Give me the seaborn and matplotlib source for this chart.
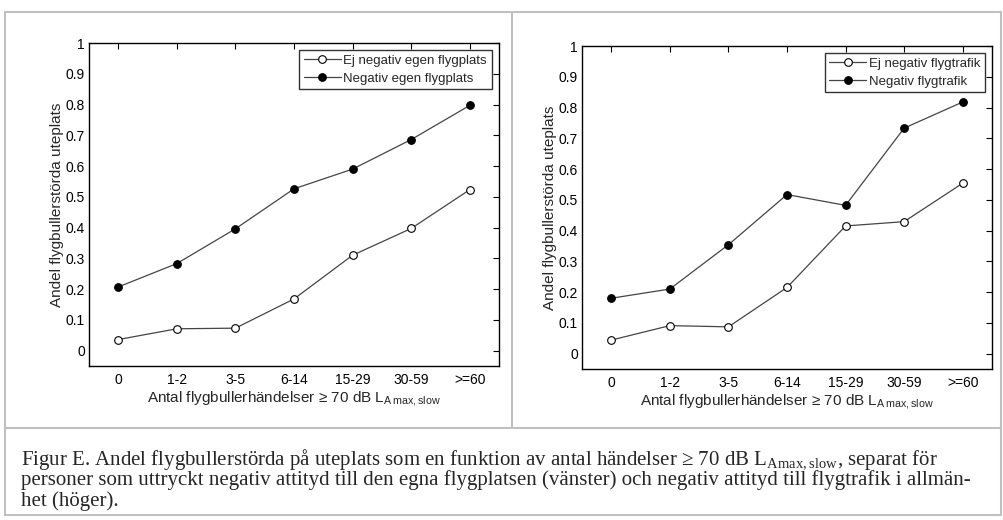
# plot.py
# Andel flygbullerstörda på uteplats vs antal händelser >= 70 dB LAmax,slow
# Two panels: egen flygplats (left) and flygtrafik i allmänhet (right)

import matplotlib
matplotlib.use('Agg')
import matplotlib.pyplot as plt
from matplotlib.patches import Rectangle
from matplotlib.lines import Line2D
import seaborn as sns
import pandas as pd

# ── Data ───────────────────────────────────────────────
categories = ['0', '1-2', '3-5', '6-14', '15-29', '30-59', '>=60']

left_not_negative = [0.036, 0.071, 0.073, 0.168, 0.310, 0.397, 0.523]
left_negative     = [0.207, 0.283, 0.396, 0.526, 0.590, 0.686, 0.797]

right_not_negative = [0.044, 0.091, 0.087, 0.215, 0.415, 0.429, 0.554]
right_negative     = [0.180, 0.210, 0.354, 0.517, 0.482, 0.733, 0.818]

left_labels  = ['Ej negativ egen flygplats', 'Negativ egen flygplats']
right_labels = ['Ej negativ flygtrafik', 'Negativ flygtrafik']

yticks = [0, 0.1, 0.2, 0.3, 0.4, 0.5, 0.6, 0.7, 0.8, 0.9, 1]
ytick_labels = ['0', '0.1', '0.2', '0.3', '0.4', '0.5', '0.6',
                '0.7', '0.8', '0.9', '1']

ylabel = 'Andel flygbullerstörda uteplats'
xlabel = 'Antal flygbullerhändelser \u2265 70 dB L$_{\\mathsf{A\\,max,slow}}$'
caption_lines = [
    'Figur E. Andel flygbullerstörda på uteplats som en funktion av antal '
    'händelser \u2265 70 dB L$_{\\mathrm{Amax,slow}}$, separat för',
    'personer som uttryckt negativ attityd till den egna flygplatsen '
    '(vänster) och negativ attityd till flygtrafik i allmän-',
    'het (höger).',
]

sns.set_style('white')
plt.rcParams['font.family'] = ['Liberation Sans', 'DejaVu Sans']
plt.rcParams['mathtext.fontset'] = 'custom'
plt.rcParams['mathtext.rm'] = 'Liberation Serif'
plt.rcParams['mathtext.sf'] = 'Liberation Sans'

LINE_COLOR = '#454545'


def draw_panel(ax, low, high, labels):
    df = pd.DataFrame({
        'kategori': categories * 2,
        'andel': low + high,
        'grupp': [labels[0]] * len(categories) + [labels[1]] * len(categories),
    })
    sns.lineplot(data=df[df['grupp'] == labels[0]], x='kategori', y='andel',
                 ax=ax, color=LINE_COLOR, linewidth=0.9, marker='o',
                 markersize=5.5, markerfacecolor='white',
                 markeredgecolor='black', markeredgewidth=0.8,
                 label=labels[0], sort=False)
    sns.lineplot(data=df[df['grupp'] == labels[1]], x='kategori', y='andel',
                 ax=ax, color=LINE_COLOR, linewidth=0.9, marker='o',
                 markersize=5.5, markerfacecolor='black',
                 markeredgecolor='black', markeredgewidth=0.8,
                 label=labels[1], sort=False)

    ax.set_xlim(-0.5, 6.5)
    ax.set_ylim(-0.05, 1.0)
    ax.set_yticks(yticks)
    ax.set_yticklabels(ytick_labels)
    ax.tick_params(direction='in', length=4, width=0.8, labelsize=10,
                   top=True, right=True, colors='black', pad=3)
    ax.tick_params(axis='x', pad=5)
    for sp in ax.spines.values():
        sp.set_color('black')
        sp.set_linewidth(1.0)
    ax.set_xlabel(xlabel, fontsize=11, labelpad=2)
    ax.set_ylabel(ylabel, fontsize=11, labelpad=1)

    leg = ax.legend(loc='upper right', fontsize=9.5, frameon=True,
                    fancybox=False, borderaxespad=0.55, handlelength=2.8,
                    handletextpad=0.2, borderpad=0.35, labelspacing=0.4)
    leg.get_frame().set_edgecolor('black')
    leg.get_frame().set_linewidth(1.0)


fig = plt.figure(figsize=(10.04, 5.2), dpi=100)
W, H = 1004, 520

def px_rect(x0, y0, x1, y1):
    return [x0 / W, 1 - y1 / H, (x1 - x0) / W, (y1 - y0) / H]

ax1 = fig.add_axes(px_rect(89, 43, 499, 366))
ax2 = fig.add_axes(px_rect(582, 46, 992, 369))

draw_panel(ax1, left_not_negative, left_negative, left_labels)
draw_panel(ax2, right_not_negative, right_negative, right_labels)

# ── Outer frame and dividers ───────────────────────────
gray = '#c0c0c0'
fig.add_artist(Rectangle((5 / W, 1 - 515 / H), 996 / W, 503 / H,
                         transform=fig.transFigure, fill=False,
                         edgecolor=gray, linewidth=1.5))
fig.add_artist(Line2D([512 / W, 512 / W], [1 - 12 / H, 1 - 428 / H],
                      transform=fig.transFigure, color=gray, linewidth=1.5))
fig.add_artist(Line2D([5 / W, 1001 / W], [1 - 428 / H, 1 - 428 / H],
                      transform=fig.transFigure, color=gray, linewidth=1.5))

# ── Caption ────────────────────────────────────────────
for i, line in enumerate(caption_lines):
    fig.text(21 / W, 1 - (465 + 20.5 * i) / H, line, ha='left', va='baseline',
             fontsize=15, family='Liberation Serif')

fig.savefig('out.png', dpi=100)
plt.close(fig)
